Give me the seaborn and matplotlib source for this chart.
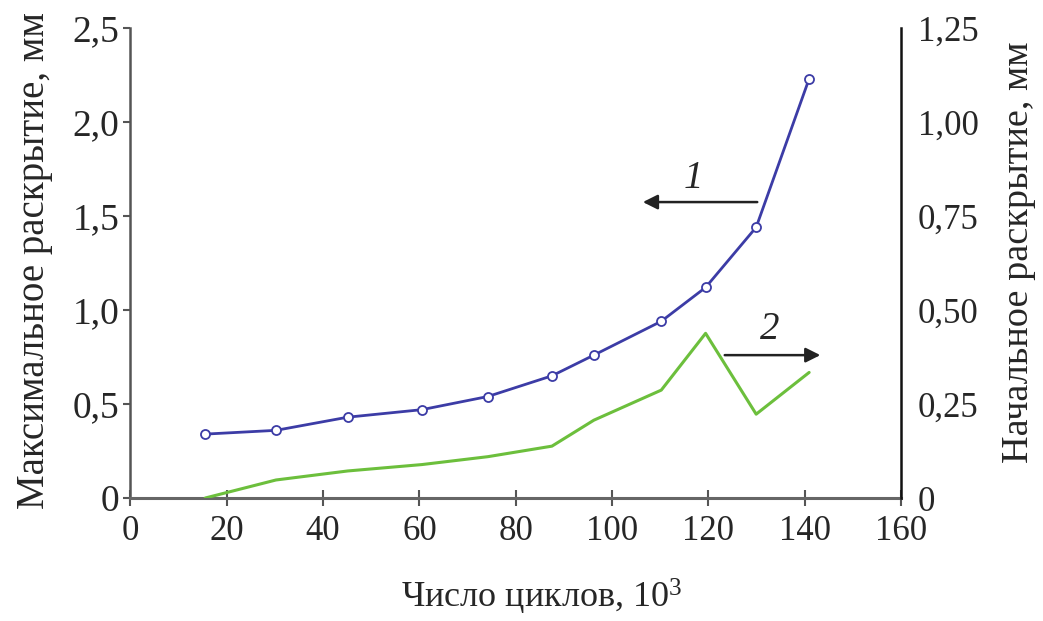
import matplotlib

matplotlib.use("Agg")
import matplotlib.pyplot as plt
import pandas as pd
import seaborn as sns

# thousands of cycles
cycles = [15.5, 30.2, 45.1, 60.5, 74.2, 87.5, 96.2, 110.2, 119.4, 129.9, 140.9]
# curve 1, left axis (mm)
max_opening = [0.34, 0.36, 0.43, 0.47, 0.54, 0.65, 0.76, 0.94, 1.12, 1.44, 2.23]
# curve 2, right axis (mm)
initial_opening = [0.0, 0.048, 0.072, 0.089, 0.11, 0.138, 0.207, 0.287, 0.438, 0.223, 0.334]

x_ticks = [0, 20, 40, 60, 80, 100, 120, 140, 160]
left_ticks = [0, 0.5, 1.0, 1.5, 2.0, 2.5]
left_labels = ["0", "0,5", "1,0", "1,5", "2,0", "2,5"]
right_ticks = [0, 0.25, 0.50, 0.75, 1.00, 1.25]
right_labels = ["0", "0,25", "0,50", "0,75", "1,00", "1,25"]

BLUE = "#3c3ca6"
GREEN = "#6cbf3c"

sns.set_theme(style="white")
plt.rcParams["font.family"] = ["Liberation Serif", "DejaVu Serif"]
plt.rcParams["mathtext.fontset"] = "custom"
plt.rcParams["mathtext.rm"] = "Liberation Serif"
plt.rcParams["mathtext.it"] = "Liberation Serif:italic"
plt.rcParams["mathtext.default"] = "rm"

df = pd.DataFrame({"cycles": cycles, "max": max_opening, "init": initial_opening})

fig = plt.figure(figsize=(10.43, 6.21), dpi=100)
ax = fig.add_axes([0.1251, 0.198, 0.7389, 0.757])
ax2 = ax.twinx()

sns.lineplot(data=df, x="cycles", y="max", ax=ax, color=BLUE, linewidth=2,
             marker="o", markersize=6.5, markerfacecolor="white",
             markeredgecolor=BLUE, markeredgewidth=1.3)
sns.lineplot(data=df, x="cycles", y="init", ax=ax2, color=GREEN, linewidth=2.2)

ax.set_xlim(0, 160)
ax.set_ylim(0, 2.5)
ax2.set_ylim(0, 1.25)
ax.set_xticks(x_ticks)
ax.set_yticks(left_ticks)
ax.set_yticklabels(left_labels)
ax2.set_yticks(right_ticks)
ax2.set_yticklabels(right_labels)

for a in (ax, ax2):
    a.grid(False)
    a.spines["top"].set_visible(False)
ax.spines["right"].set_visible(False)
ax.spines["left"].set_color("#555555")
ax.spines["left"].set_linewidth(1.8)
ax.spines["bottom"].set_color("#666666")
ax.spines["bottom"].set_linewidth(2.2)
ax2.spines["left"].set_visible(False)
ax2.spines["bottom"].set_visible(False)
ax2.spines["right"].set_color("#111111")
ax2.spines["right"].set_linewidth(1.8)

ax.tick_params(axis="y", direction="out", length=5, width=1.5, color="#555555",
               labelsize=27, pad=3, left=True)
ax.tick_params(axis="x", direction="inout", length=12, width=1.5, color="#555555",
               labelsize=25, pad=6, bottom=True)
ax2.tick_params(axis="y", length=0, labelsize=25, pad=12)

ax.set_xlabel("Число циклов, 10$^3$", fontsize=26)
ax.xaxis.set_label_coords(0.534, -0.168)
ax.set_ylabel("Максимальное раскрытие, мм", fontsize=28)
ax.yaxis.set_label_coords(-0.1, 0.506)
ax2.set_ylabel("Начальное раскрытие, мм", fontsize=27.5)
ax2.yaxis.set_label_coords(1.13, 0.523)

arrow = dict(arrowstyle="-|>", color="#222222", lw=1.8, mutation_scale=22)
ax.annotate("", xy=(105.8, 1.574), xytext=(130.7, 1.574), arrowprops=arrow)
ax.text(116.8, 1.70, "1", fontsize=28, style="italic", ha="center", va="center")
ax2.annotate("", xy=(143.8, 0.380), xytext=(122.8, 0.380), arrowprops=arrow)
ax2.text(132.8, 0.447, "2", fontsize=28, style="italic", ha="center", va="center")

fig.savefig("out.png", dpi=100)
plt.close(fig)
